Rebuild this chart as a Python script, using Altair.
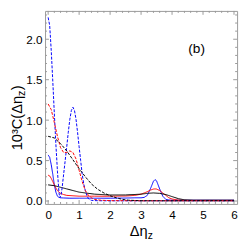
import altair as alt
import pandas as pd

# ---- data ----
bd_x = [0, 0.05, 0.1, 0.15, 0.2, 0.25, 0.3, 0.35, 0.38, 0.42, 0.45, 0.5, 0.55, 0.6, 0.65, 0.7, 0.75, 0.8,
        0.85, 0.9, 0.95, 1.0, 1.05, 1.1, 1.15, 1.2, 1.25, 1.3, 1.35, 1.4, 1.6, 2.0, 3.0, 4.0, 5.0, 6.0]
bd_y = [2.27, 2.17, 1.86, 1.48, 1.08, 0.70, 0.37, 0.10, 0.04, 0.08, 0.16, 0.33, 0.50, 0.67, 0.85, 1.01, 1.12, 1.16,
        1.12, 1.01, 0.85, 0.67, 0.50, 0.33, 0.21, 0.13, 0.07, 0.03, 0.015, 0.008, 0.004, 0.003, 0.003, 0.003, 0.003, 0.003]

bs_x = [0, 0.05, 0.1, 0.15, 0.2, 0.25, 0.3, 0.35, 0.4, 0.5, 0.7, 1.0, 1.5, 2.0, 2.5, 2.8, 3.0, 3.1, 3.2, 3.3,
        3.4, 3.45, 3.5, 3.6, 3.7, 3.8, 3.9, 4.0, 4.5, 5.0, 6.0]
bs_y = [0.57, 0.54, 0.45, 0.33, 0.20, 0.11, 0.06, 0.045, 0.04, 0.038, 0.035, 0.035, 0.035, 0.035, 0.037, 0.04, 0.04, 0.045, 0.07, 0.15,
        0.245, 0.265, 0.25, 0.15, 0.06, 0.02, 0.012, 0.01, 0.01, 0.01, 0.01]

rd_x = [0, 0.1, 0.2, 0.3, 0.4, 0.5, 0.6, 0.7, 0.8, 0.9, 1.0, 1.1, 1.2, 1.3, 1.4, 1.5, 1.7, 2.0, 3.0, 4.0, 5.0, 6.0]
rd_y = [1.20, 1.13, 0.97, 0.80, 0.66, 0.60, 0.60, 0.62, 0.60, 0.52, 0.38, 0.24, 0.13, 0.07, 0.04, 0.02, 0.01, 0.005, 0.003, 0.003, 0.003, 0.003]

rs_x = [0, 0.05, 0.1, 0.15, 0.2, 0.25, 0.3, 0.35, 0.4, 0.5, 0.6, 0.8, 1.0, 1.5, 2.0, 2.5, 2.8, 3.0, 3.1, 3.2,
        3.3, 3.4, 3.45, 3.5, 3.6, 3.7, 3.8, 3.9, 4.0, 4.2, 4.5, 5.0, 6.0]
rs_y = [0.32, 0.31, 0.28, 0.24, 0.20, 0.16, 0.13, 0.11, 0.095, 0.08, 0.07, 0.065, 0.06, 0.06, 0.06, 0.062, 0.07, 0.085, 0.10, 0.115,
        0.135, 0.148, 0.15, 0.148, 0.13, 0.10, 0.07, 0.04, 0.025, 0.012, 0.008, 0.008, 0.008]

kd_x = [0, 0.2, 0.4, 0.6, 0.8, 1.0, 1.2, 1.4, 1.6, 1.8, 2.0, 2.2, 2.4, 2.6, 3.0, 4.0, 5.0, 6.0]
kd_y = [0.80, 0.78, 0.71, 0.62, 0.51, 0.40, 0.30, 0.21, 0.145, 0.10, 0.065, 0.04, 0.02, 0.01, 0.004, 0.003, 0.003, 0.003]

ks_x = [0, 0.2, 0.4, 0.6, 0.8, 1.0, 1.5, 2.0, 2.5, 3.0, 3.2, 3.4, 3.6, 3.8, 4.0, 4.2, 4.4, 4.7, 5.0, 6.0]
ks_y = [0.20, 0.19, 0.17, 0.15, 0.13, 0.11, 0.085, 0.075, 0.075, 0.085, 0.095, 0.10, 0.095, 0.08, 0.055, 0.03, 0.015, 0.01, 0.01, 0.01]

series_names = ["bs", "rs", "ks", "bd", "rd", "kd"]
series_colors = ["#0000ff", "#ff0000", "#000000", "#0000ff", "#ff0000", "#000000"]
series_dash = [[1, 0], [1, 0], [1, 0], [3, 1.5], [3, 1.5], [3, 1.5]]

x_major = [0, 1, 2, 3, 4, 5, 6]
x_minor = [round(i * 0.2, 1) for i in range(0, 31) if i % 5 != 0]
y_major = [0.0, 0.5, 1.0, 1.5, 2.0]
y_minor = [round(i * 0.1, 1) for i in range(0, 24) if i % 5 != 0]

rows = []
for name, xs_, ys_ in [("bs", bs_x, bs_y), ("rs", rs_x, rs_y), ("ks", ks_x, ks_y),
                       ("bd", bd_x, bd_y), ("rd", rd_x, rd_y), ("kd", kd_x, kd_y)]:
    for a, b in zip(xs_, ys_):
        rows.append({"x": a, "y": b, "s": name})
df = pd.DataFrame(rows)

W, H = 197, 198
FONT = "Liberation Sans"
FRAME = "#999999"

xscale = alt.Scale(domain=[-0.1, 6.1], nice=False, zero=False)
yscale = alt.Scale(domain=[-0.036, 2.35], nice=False, zero=False)
xaxis = alt.Axis(values=x_major, format="d", ticks=False, domain=False, grid=False,
                 labelPadding=6, title=None, labelFontSize=12, labelColor="black", labelFont=FONT)
yaxis = alt.Axis(values=y_major, format=".1f", ticks=False, domain=False, grid=False,
                 labelPadding=3, title=None, labelFontSize=12, labelColor="black", labelFont=FONT)
xenc = alt.X("x:Q", scale=xscale, axis=xaxis)
yenc = alt.Y("y:Q", scale=yscale, axis=yaxis)

lines = alt.Chart(df).mark_line(strokeWidth=1.0, clip=True).encode(
    x=xenc, y=yenc,
    color=alt.Color("s:N", scale=alt.Scale(domain=series_names, range=series_colors), legend=None),
    strokeDash=alt.StrokeDash("s:N", scale=alt.Scale(domain=series_names, range=series_dash), legend=None),
)

dfxM = pd.DataFrame({"x": x_major})
dfxm = pd.DataFrame({"x": x_minor})
dfyM = pd.DataFrame({"y": y_major})
dfym = pd.DataFrame({"y": y_minor})

def xt(d, y1, y2):
    return alt.Chart(d).mark_rule(color=FRAME, strokeWidth=1).encode(x=xenc, y=alt.value(y1), y2=alt.value(y2))

def yt(d, x1, x2):
    return alt.Chart(d).mark_rule(color=FRAME, strokeWidth=1).encode(y=yenc, x=alt.value(x1), x2=alt.value(x2))

ticks = [xt(dfxM, H, H - 4), xt(dfxm, H, H - 2), xt(dfxM, 0, 4), xt(dfxm, 0, 2),
         yt(dfyM, 0, 4), yt(dfym, 0, 2), yt(dfyM, W, W - 4), yt(dfym, W, W - 2)]

one = pd.DataFrame({"a": [0]})

def txt(t, x, y, size, angle=0, align="left", baseline="alphabetic"):
    return alt.Chart(one).mark_text(text=t, fontSize=size, font=FONT, color="black", angle=angle,
                                    align=align, baseline=baseline).encode(x=alt.value(x), y=alt.value(y))

# y title pieces (rotated)
bx = -24
y0 = 143
fs = 15
w1 = 3.724 * fs
texts = [
    txt("(b)", 155.5, 39.5, 14, align="center", baseline="middle"),
    txt("Δη", 87, 231, 15),
    txt("z", 87 + 18.3, 234, 10.5),
    txt("10³C(Δη", bx, y0, fs, angle=270),
    txt("z", bx + 3, y0 - w1, 11, angle=270),
    txt(")", bx, y0 - w1 - 5.8, fs, angle=270),
]

chart = alt.layer(*ticks, lines, *texts).properties(
    width=W, height=H,
    padding={"left": 38, "top": 0, "right": 4, "bottom": 35},
    autosize=alt.AutoSizeParams(type="none"),
).configure_view(stroke=FRAME, strokeWidth=1)

chart.save("out.html", embed_options={"renderer": "svg", "actions": False})
